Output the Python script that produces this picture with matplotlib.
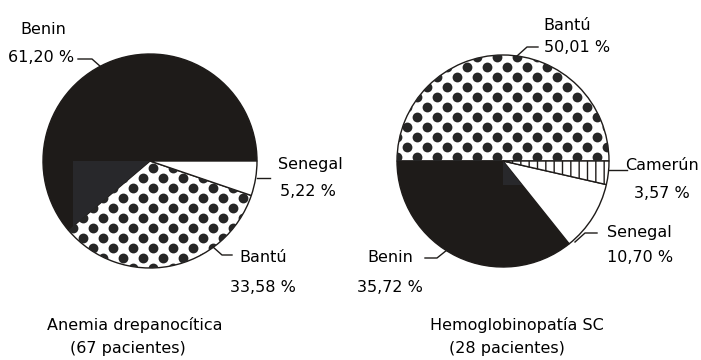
import numpy as np
import matplotlib
matplotlib.use("Agg")
import matplotlib.pyplot as plt
from matplotlib.patches import Rectangle

# ---- data ----
left_labels = ['Benin', 'Bantú', 'Senegal']
left_values = [61.20, 33.58, 5.22]
left_title = ['Anemia drepanocítica', '(67 pacientes)']

right_labels = ['Bantú', 'Benin', 'Senegal', 'Camerún']
right_values = [50.01, 35.72, 10.70, 3.57]
right_title = ['Hemoglobinopatía SC', '(28 pacientes)']

W, H = 701, 360
BLACK = '#1e1b19'
DOT = '#262626'
SHADE = '#28282b'
FS = 11.5

plt.rcParams['font.family'] = ['DejaVu Sans']
plt.rcParams['hatch.color'] = BLACK
plt.rcParams['hatch.linewidth'] = 1.0

fig = plt.figure(figsize=(W / 100, H / 100), dpi=100)
ax = fig.add_axes([0, 0, 1, 1])


def Y(y):  # image y (top-down) -> data y
    return H - y


def pct(v):
    return f"{v:.2f}".replace('.', ',') + " %"


def draw_pie(values, labels, cx, cy, r, shade_w, shade_h):
    wedges, _ = ax.pie(values, startangle=0, counterclock=True,
                       center=(cx, Y(cy)), radius=r,
                       wedgeprops=dict(edgecolor=BLACK, linewidth=1.0))
    for w, lab in zip(wedges, labels):
        if lab == 'Benin':
            w.set_facecolor(BLACK)
            # slightly lighter printing artefact near the centre
            rect = Rectangle((cx + shade_w[0], Y(cy) - shade_h), shade_w[1], shade_h,
                             facecolor=SHADE, edgecolor='none', zorder=w.get_zorder() + 0.05)
            ax.add_patch(rect)
            rect.set_clip_path(w)
        elif lab == 'Bantú':
            w.set_facecolor('white')
            xs, ys = [], []
            row = 0
            for yy in np.arange(Y(cy) - r - 10, Y(cy) + r + 10, 10):
                off = 10 if row % 2 else 0
                for xx in np.arange(cx - r - 20 + off, cx + r + 20, 20):
                    xs.append(xx)
                    ys.append(yy)
                row += 1
            sc = ax.scatter(xs, ys, s=50, color=DOT, linewidths=0,
                            zorder=w.get_zorder() + 0.1)
            sc.set_clip_path(w)
        elif lab == 'Camerún':
            w.set_facecolor('white')
            w.set_hatch('||')
        else:
            w.set_facecolor('white')
    return wedges


draw_pie(left_values, left_labels, 150, 161, 107, (-77, 77), 72)
draw_pie(right_values, right_labels, 503, 161, 106, (0, 20), 24)

lw = 1.0
# ---- labels, left pie ----
lv = dict(zip(left_labels, left_values))
ax.text(43, Y(30), 'Benin', ha='center', va='center', fontsize=FS)
ax.text(41, Y(58), pct(lv['Benin']), ha='center', va='center', fontsize=FS)
ax.plot([78, 92, 101], [Y(59), Y(59), Y(67)], color=BLACK, lw=lw)

ax.text(278, Y(165), 'Senegal', ha='left', va='center', fontsize=FS)
ax.text(280, Y(192), pct(lv['Senegal']), ha='left', va='center', fontsize=FS)
ax.plot([257, 270], [Y(178), Y(178)], color=BLACK, lw=lw)

ax.text(263, Y(258), 'Bantú', ha='center', va='center', fontsize=FS)
ax.text(263, Y(287), pct(lv['Bantú']), ha='center', va='center', fontsize=FS)
ax.plot([213, 222, 232], [Y(247), Y(255), Y(255)], color=BLACK, lw=lw)

ax.text(135, Y(325), left_title[0], ha='center', va='center', fontsize=FS)
ax.text(128, Y(348), left_title[1], ha='center', va='center', fontsize=FS)

# ---- labels, right pie ----
rv = dict(zip(right_labels, right_values))
ax.text(567, Y(25), 'Bantú', ha='center', va='center', fontsize=FS)
ax.text(577, Y(48), pct(rv['Bantú']), ha='center', va='center', fontsize=FS)
ax.plot([538, 527, 517], [Y(47), Y(47), Y(56)], color=BLACK, lw=lw)

ax.text(662, Y(165), 'Camerún', ha='center', va='center', fontsize=FS)
ax.text(662, Y(193), pct(rv['Camerún']), ha='center', va='center', fontsize=FS)
ax.plot([609, 627], [Y(170), Y(170)], color=BLACK, lw=lw)

ax.text(607, Y(232), 'Senegal', ha='left', va='center', fontsize=FS)
ax.text(607, Y(258), pct(rv['Senegal']), ha='left', va='center', fontsize=FS)
ax.plot([597, 585, 575], [Y(233), Y(233), Y(242)], color=BLACK, lw=lw)

ax.text(390, Y(258), 'Benin', ha='center', va='center', fontsize=FS)
ax.text(390, Y(288), pct(rv['Benin']), ha='center', va='center', fontsize=FS)
ax.plot([425, 437, 447], [Y(258), Y(258), Y(250)], color=BLACK, lw=lw)

ax.text(517, Y(325), right_title[0], ha='center', va='center', fontsize=FS)
ax.text(507, Y(348), right_title[1], ha='center', va='center', fontsize=FS)

ax.set_xlim(0, W)
ax.set_ylim(0, H)
ax.set_aspect('equal')
ax.axis('off')

fig.savefig('out.png', dpi=100, facecolor='white')
